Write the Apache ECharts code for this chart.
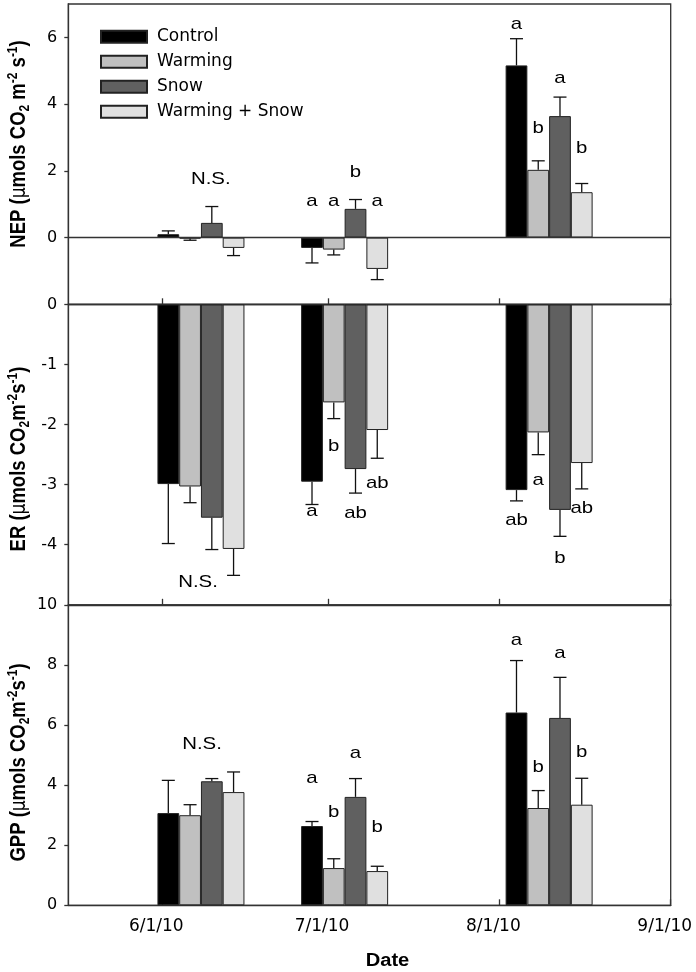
<!DOCTYPE html>
<html>
<head>
<meta charset="utf-8">
<script src="https://cdn.jsdelivr.net/npm/echarts@6/dist/echarts.min.js"></script>
<style>
html,body{margin:0;padding:0;background:#fff;}
#chart{width:696px;height:972px;}
</style>
</head>
<body>
<div id="chart"></div>
<script>
// ---------------- data ----------------
const treatments = ['Control', 'Warming', 'Snow', 'Warming + Snow'];
const sampleDates = ['2010-06-08', '2010-07-04', '2010-08-10'];
const dateTicks = ['2010-06-01', '2010-07-01', '2010-08-01', '2010-09-01'];
const dateRange = ['2010-05-15', '2010-09-01'];

const nepTicks = [0, 2, 4, 6];
const erTicks = [0, -1, -2, -3, -4];
const gppTicks = [0, 2, 4, 6, 8, 10];

// NEP means and SE
const nepControl = [0.10, -0.31, 5.16];
const nepWarming = [-0.03, -0.36, 2.03];
const nepSnow = [0.44, 0.86, 3.64];
const nepWarmSnow = [-0.31, -0.94, 1.36];
const nepControlSE = [0.10, 0.45, 0.80];
const nepWarmingSE = [0.05, 0.16, 0.27];
const nepSnowSE = [0.49, 0.28, 0.57];
const nepWarmSnowSE = [0.23, 0.32, 0.26];

// ER means and SE
const erControl = [-2.99, -2.95, -3.09];
const erWarming = [-3.03, -1.63, -2.13];
const erSnow = [-3.55, -2.74, -3.42];
const erWarmSnow = [-4.07, -2.09, -2.64];
const erControlSE = [0.99, 0.38, 0.18];
const erWarmingSE = [0.27, 0.27, 0.37];
const erSnowSE = [0.53, 0.40, 0.44];
const erWarmSnowSE = [0.44, 0.47, 0.43];

// GPP means and SE
const gppControl = [3.07, 2.64, 6.42];
const gppWarming = [3.00, 1.24, 3.24];
const gppSnow = [4.13, 3.61, 6.24];
const gppWarmSnow = [3.77, 1.14, 3.35];
const gppControlSE = [1.09, 0.15, 1.73];
const gppWarmingSE = [0.35, 0.31, 0.58];
const gppSnowSE = [0.09, 0.61, 1.35];
const gppWarmSnowSE = [0.67, 0.16, 0.88];

// significance letters (per treatment, per date) and the value level they sit at
const nepLetters = [['', 'a', 'a'], ['', 'a', 'b'], ['', 'b', 'a'], ['', 'a', 'b']];
const nepLetterLevel = [[null, 1.09, 6.40], [null, 1.09, 3.28], [null, 1.95, 4.78], [null, 1.09, 2.66]];
const erLetters = [['', 'a', 'ab'], ['', 'b', 'a'], ['', 'ab', 'b'], ['', 'ab', 'ab']];
const erLetterLevel = [[null, -3.45, -3.59], [null, -2.36, -2.92], [null, -3.47, -4.23], [null, -2.98, -3.39]];
const gppLetters = [['', 'a', 'a'], ['', 'b', 'b'], ['', 'a', 'a'], ['', 'b', 'b']];
const gppLetterLevel = [[null, 4.22, 8.81], [null, 3.08, 4.61], [null, 5.06, 8.39], [null, 2.61, 5.09]];
const nsText = 'N.S.';
const nsLevel = [1.74, -4.63, 5.37]; // NEP, ER, GPP (first date group)

// ---------------- layout / style ----------------
const BAR_W = 21.75;
const CAP_W = 13;
const AX = '#333';
const colors = ['#000000', '#c0c0c0', '#606060', '#e0e0e0'];
const nsDx = [9.8, -2.9, 1.1];

// dates -> day number since the axis start
function utc(s) { const p = s.split('-'); return Date.UTC(+p[0], +p[1] - 1, +p[2]); }
const ORIGIN = utc(dateRange[0]);
function D(s) { return Math.round((utc(s) - ORIGIN) / 86400000); }
const tickDays = dateTicks.map(D);
function fmtDay(v) {
  const d = new Date(ORIGIN + Math.round(v) * 86400000);
  return (d.getUTCMonth() + 1) + '/' + d.getUTCDate() + '/' + String(d.getUTCFullYear()).slice(2);
}

const panels = [
  { means: [nepControl, nepWarming, nepSnow, nepWarmSnow], se: [nepControlSE, nepWarmingSE, nepSnowSE, nepWarmSnowSE],
    letters: nepLetters, levels: nepLetterLevel, min: -2, max: 7, ticks: nepTicks },
  { means: [erControl, erWarming, erSnow, erWarmSnow], se: [erControlSE, erWarmingSE, erSnowSE, erWarmSnowSE],
    letters: erLetters, levels: erLetterLevel, min: -5, max: 0, ticks: erTicks },
  { means: [gppControl, gppWarming, gppSnow, gppWarmSnow], se: [gppControlSE, gppWarmingSE, gppSnowSE, gppWarmSnowSE],
    letters: gppLetters, levels: gppLetterLevel, min: 0, max: 10, ticks: gppTicks }
];
const gridTops = [4, 304.5, 605];
const GRID_H = 300.3;

const grids = [], xAxes = [], yAxes = [], series = [];
const textFont = 'DejaVu Sans';

panels.forEach((p, gi) => {
  grids.push({ left: 68.3, right: 25.3, top: gridTops[gi], height: GRID_H, show: true,
    borderColor: AX, borderWidth: 1.3, containLabel: false, outerBoundsMode: 'none' });
  xAxes.push({
    type: 'value', gridIndex: gi, min: D(dateRange[0]), max: D(dateRange[1]),
    axisLine: { show: true, onZero: false, lineStyle: { color: AX, width: 1.3 } },
    axisTick: { show: true, inside: true, length: 6, customValues: tickDays, lineStyle: { color: AX, width: 1.3 } },
    axisLabel: { show: gi === 2, customValues: tickDays, formatter: fmtDay, fontFamily: textFont, fontSize: 17,
      color: '#000', margin: 13, padding: [0, 12, 0, 0] },
    splitLine: { show: false }, minorTick: { show: false }
  });
  yAxes.push({
    type: 'value', gridIndex: gi, min: p.min, max: p.max,
    axisLine: { show: true, onZero: false, lineStyle: { color: AX, width: 1.3 } },
    axisTick: { show: true, inside: false, length: 4, customValues: p.ticks, lineStyle: { color: AX, width: 1.3 } },
    axisLabel: { customValues: p.ticks, fontFamily: textFont, fontSize: 16, color: '#000', margin: 11 },
    splitLine: { show: false }
  });
  treatments.forEach((name, k) => {
    const s = {
      type: 'bar', name: name, xAxisIndex: gi, yAxisIndex: gi,
      barWidth: BAR_W, barGap: '0%',
      itemStyle: { color: colors[k], borderColor: '#222', borderWidth: 1 },
      data: sampleDates.map((d, i) => [D(d), p.means[k][i]]),
      animation: false, silent: true
    };
    if (gi === 0 && k === 0) {
      s.markLine = { silent: true, symbol: 'none', label: { show: false },
        lineStyle: { color: AX, width: 1.3, type: 'solid' }, data: [{ yAxis: 0 }] };
    }
    series.push(s);
  });
  const errData = [];
  treatments.forEach((name, k) => {
    sampleDates.forEach((d, i) => errData.push([D(d), p.means[k][i], p.se[k][i], k]));
  });
  series.push({
    type: 'custom', xAxisIndex: gi, yAxisIndex: gi, silent: true, animation: false, z: 3,
    data: errData,
    renderItem: function (params, api) {
      const t = api.value(0), v = api.value(1), e = api.value(2), k = api.value(3);
      const base = api.coord([t, v]);
      const end = api.coord([t, v + (v >= 0 ? e : -e)]);
      const x = base[0] + (k - 1.5) * BAR_W;
      const st = { stroke: '#111', lineWidth: 1.3 };
      return { type: 'group', children: [
        { type: 'line', shape: { x1: x, y1: base[1], x2: x, y2: end[1] }, style: st },
        { type: 'line', shape: { x1: x - CAP_W / 2, y1: end[1], x2: x + CAP_W / 2, y2: end[1] }, style: st }
      ] };
    }
  });
  const lab = [];
  treatments.forEach((name, k) => {
    sampleDates.forEach((d, i) => {
      if (p.letters[k][i]) lab.push({ value: [D(d), p.levels[k][i], k], text: p.letters[k][i], dx: 0 });
    });
  });
  lab.push({ value: [D(sampleDates[0]), nsLevel[gi], 1.5], text: nsText, dx: nsDx[gi] });
  series.push({
    type: 'custom', xAxisIndex: gi, yAxisIndex: gi, silent: true, animation: false, z: 4,
    data: lab.map(o => o.value),
    renderItem: function (params, api) {
      const o = lab[params.dataIndex];
      const pt = api.coord([api.value(0), api.value(1)]);
      return { type: 'text', x: pt[0] + (api.value(2) - 1.5) * BAR_W + o.dx, y: pt[1], scaleX: 1.2,
        style: { text: o.text, fill: '#000', font: '17px "Liberation Sans"', align: 'center', verticalAlign: 'middle' } };
    }
  });
});

const richTitle = {
  b: { fontFamily: 'Liberation Sans', fontWeight: 'bold', fontSize: 18.5, lineHeight: 22, color: '#000' },
  mu: { fontFamily: 'DejaVu Sans', fontWeight: 'normal', fontSize: 17, lineHeight: 22, color: '#000' },
  sub: { fontFamily: 'Liberation Sans', fontWeight: 'bold', fontSize: 12, lineHeight: 12, verticalAlign: 'bottom', color: '#000' },
  sup: { fontFamily: 'Liberation Sans', fontWeight: 'bold', fontSize: 12, lineHeight: 12, verticalAlign: 'top', color: '#000' }
};
const titles = [
  { text: '{b|NEP (}{mu|μ}{b|mols CO}{sub|2}{b| m}{sup|-2}{b| s}{sup|-1}{b|)}', y: 144 },
  { text: '{b|ER (}{mu|μ}{b|mols CO}{sub|2}{b|m}{sup|-2}{b|s}{sup|-1}{b|)}', y: 459 },
  { text: '{b|GPP (}{mu|μ}{b|mols CO}{sub|2}{b|m}{sup|-2}{b|s}{sup|-1}{b|)}', y: 762.5 }
];
const graphic = titles.map(t => ({
  type: 'text', x: 19.2, y: t.y, rotation: Math.PI / 2, scaleY: 1.2, silent: true,
  style: { text: t.text, rich: richTitle, align: 'center', verticalAlign: 'middle', fill: '#000' }
}));
graphic.push({
  type: 'text', x: 387.5, y: 960.7, scaleX: 1.15, silent: true,
  style: { text: 'Date', font: 'bold 17.5px "Liberation Sans"', fill: '#000', align: 'center', verticalAlign: 'middle' }
});

const chart = echarts.init(document.getElementById('chart'), null, { renderer: 'canvas' });
chart.setOption({
  animation: false,
  backgroundColor: '#fff',
  grid: grids,
  xAxis: xAxes,
  yAxis: yAxes,
  legend: {
    show: true, orient: 'vertical', left: 100, top: 24.2, padding: 0, itemWidth: 46, itemHeight: 12, itemGap: 0,
    icon: 'rect', selectedMode: false, data: treatments,
    textStyle: { fontFamily: textFont, fontSize: 17, color: '#000', lineHeight: 25, padding: [0, 0, 0, 5] }
  },
  graphic: graphic,
  series: series
});
</script>
</body>
</html>
